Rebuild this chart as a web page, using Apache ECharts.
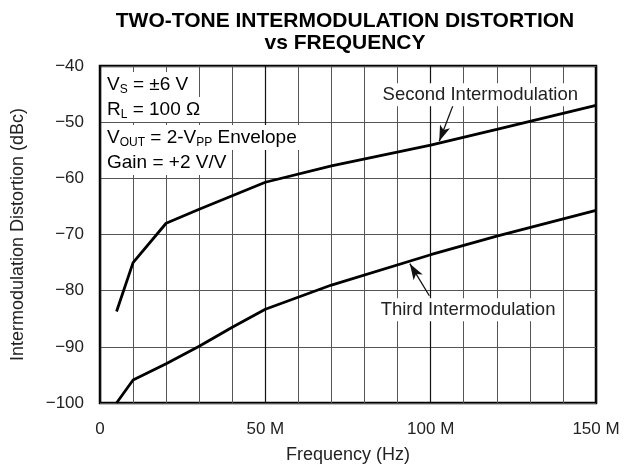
<!DOCTYPE html>
<html>
<head>
<meta charset="utf-8">
<script src="https://cdn.jsdelivr.net/npm/echarts@6/dist/echarts.min.js"></script>
<style>
  html, body { margin: 0; padding: 0; background: #fff; }
  #chart { width: 634px; height: 466px; }
</style>
</head>
<body>
<div id="chart"></div>
<script>
// data, frequency in MHz
const secondFreq = [5, 10, 20, 30, 50, 70, 100, 120, 150];
const secondDbc = [-83.7, -75, -68, -65.5, -60.7, -57.8, -54.1, -51.3, -47];
const thirdFreq = [5, 10, 20, 30, 40, 50, 70, 100, 120, 150];
const thirdDbc = [-100, -95.9, -93, -89.9, -86.5, -83.3, -79, -73.6, -70.3, -65.7];
const xTicks = [0, 50, 100, 150];
const yTicks = [-100, -90, -80, -70, -60, -50, -40];

const font = "'Liberation Sans', Arial, Helvetica, sans-serif";

const pairs = (xs, ys) => xs.map((x, i) => [x, ys[i]]);

const arrowLine = (from, to) => ({
    silent: true,
    symbol: ['none', 'arrow'],
    symbolSize: [8, 16],
    lineStyle: { color: '#111', width: 1.3, type: 'solid' },
    label: { show: false },
    data: [[{ coord: from }, { coord: to }]]
});

const textPoint = (coord, text) => ({
    silent: true,
    symbol: 'rect',
    symbolSize: 0,
    data: [{ coord: coord }],
    label: {
        show: true,
        position: 'inside',
        formatter: text,
        color: '#222',
        fontSize: 18.5,
        fontFamily: font,
        backgroundColor: '#fff',
        padding: [2, 3]
    }
});

const getOption = () => {
    return {
        backgroundColor: '#fff',
        animation: false,
        title: {
            text: 'TWO-TONE INTERMODULATION DISTORTION\nvs FREQUENCY',
            left: 340,
            top: 5,
            textAlign: 'center',
            textStyle: {
                fontFamily: font,
                fontSize: 21,
                fontWeight: 'bold',
                color: '#000',
                lineHeight: 22
            }
        },
        grid: {
            left: 100,
            right: 38,
            top: 66,
            bottom: 63,
            outerBoundsMode: 'none',
            show: true,
            borderColor: '#000',
            borderWidth: 2.5
        },
        xAxis: {
            type: 'value',
            min: 0,
            max: 150,
            interval: 50,
            name: 'Frequency (Hz)',
            nameLocation: 'middle',
            nameGap: 43,
            nameTextStyle: { fontFamily: font, fontSize: 18, color: '#222' },
            axisLine: { show: false },
            axisTick: { show: false },
            axisLabel: {
                margin: 18,
                fontFamily: font,
                fontSize: 17,
                color: '#222',
                formatter: v => xTicks.includes(v) ? (v === 0 ? '0' : v + ' M') : ''
            },
            splitLine: { show: true, lineStyle: { color: '#111', width: 1.2 } },
            minorTick: { show: false, splitNumber: 5 },
            minorSplitLine: { show: true, lineStyle: { color: '#555', width: 1 } }
        },
        yAxis: {
            type: 'value',
            min: -100,
            max: -40,
            interval: 10,
            name: 'Intermodulation Distortion (dBc)',
            nameLocation: 'middle',
            nameGap: 73,
            nameTextStyle: { fontFamily: font, fontSize: 18, color: '#222' },
            axisLine: { show: false },
            axisTick: { show: false },
            axisLabel: {
                margin: 16,
                fontFamily: font,
                fontSize: 17,
                color: '#222',
                formatter: v => yTicks.includes(v) ? '\u2212' + Math.abs(v) : ''
            },
            splitLine: { show: true, lineStyle: { color: '#555', width: 1 } }
        },
        series: [
            {
                name: 'Second Intermodulation',
                type: 'line',
                data: pairs(secondFreq, secondDbc),
                showSymbol: false,
                symbol: 'none',
                lineStyle: { color: '#000', width: 2.8 },
                markLine: arrowLine([106.7, -47.1], [102.6, -53.4]),
                markPoint: textPoint([115, -45.1], 'Second Intermodulation')
            },
            {
                name: 'Third Intermodulation',
                type: 'line',
                data: pairs(thirdFreq, thirdDbc),
                showSymbol: false,
                symbol: 'none',
                lineStyle: { color: '#000', width: 2.8 },
                markLine: arrowLine([99.6, -80.9], [93.7, -75.2]),
                markPoint: textPoint([111.3, -83.4], 'Third Intermodulation')
            }
        ],
        graphic: [
            legendLine(84, '{t|V}{s|S}{t| = \u00b16 V}'),
            legendLine(109, '{t|R}{s|L}{t| = 100 \u03a9}'),
            legendLine(137, '{t|V}{s|OUT}{t| = 2-V}{s|PP}{t| Envelope}'),
            legendLine(162, '{t|Gain = +2 V/V}')
        ]
    };
};

function legendLine(y, text) {
    return {
        type: 'text',
        left: 104,
        top: y - 12,
        z: 100,
        silent: true,
        style: {
            text: text,
            backgroundColor: '#fff',
            padding: [1, 3, 1, 3],
            rich: {
                t: { fontFamily: font, fontSize: 19, color: '#222', lineHeight: 23, verticalAlign: 'middle' },
                s: { fontFamily: font, fontSize: 12, color: '#222', lineHeight: 23, verticalAlign: 'bottom' }
            }
        }
    };
}

let chart;
function initChart() {
    chart = echarts.init(document.getElementById('chart'), null, { renderer: 'canvas' });
    chart.setOption(getOption());
}

document.addEventListener('DOMContentLoaded', function () {
    initChart();
});
</script>
</body>
</html>
